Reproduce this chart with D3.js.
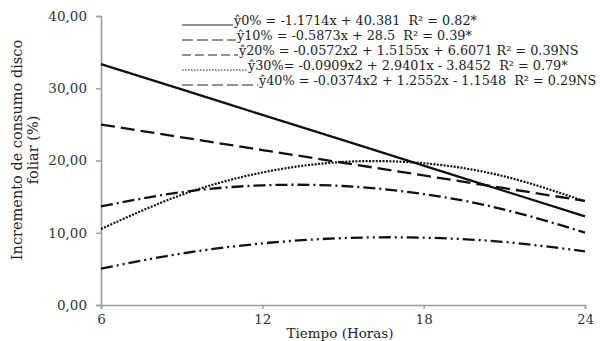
<!DOCTYPE html>
<html><head><meta charset="utf-8">
<script src="https://cdn.jsdelivr.net/npm/d3@7"></script>
<style>body{margin:0;background:#fff}svg{display:block}</style>
</head><body>
<svg id="c" width="602" height="341"></svg>
<script>
const hours = [6, 9, 12, 15, 18, 21, 24];
const s0  = [33.35, 29.84, 26.32, 22.81, 19.30, 15.78, 12.27];
const s10 = [24.98, 23.21, 21.45, 19.69, 17.93, 16.17, 14.40];
const s20 = [13.64, 15.62, 16.56, 16.47, 15.36, 13.21, 10.03];
const s30 = [10.52, 15.25, 18.34, 19.80, 19.62, 17.80, 14.35];
const s40 = [5.03, 7.12, 8.52, 9.26, 9.32, 8.72, 7.43];
const xTicks = [6, 12, 18, 24];
const yTicks = [0, 10, 20, 30, 40];
const legendLabels = [
  "ŷ0% = -1.1714x + 40.381  R² = 0.82*",
  "ŷ10% = -0.5873x + 28.5  R² = 0.39*",
  "ŷ20% = -0.0572x2 + 1.5155x + 6.6071 R² = 0.39NS",
  "ŷ30%= -0.0909x2 + 2.9401x - 3.8452  R² = 0.79*",
  "ŷ40% = -0.0374x2 + 1.2552x - 1.1548  R² = 0.29NS"
];
const series = [s0, s10, s20, s30, s40];
const curveDash = [null, "14,6", "12,4,2,4", "2,1.4", "12,4,2,4,2,4"];
const legendDash = [null, "11,4", "9,4", "1.6,1.4", "11,4"];
const legendLineEnd = [233, 236, 238, 247, 258];

const svg = d3.select("#c");
const x = d3.scaleLinear().domain([6, 24]).range([101, 585]);
const y = d3.scaleLinear().domain([0, 40]).range([305, 16]);
const font = "'DejaVu Serif', serif";
const axisColor = "#9a9a9a";

// axes
const gx = svg.append("g").attr("transform", "translate(0,305)")
  .call(d3.axisBottom(x).tickValues(xTicks).tickSize(4).tickPadding(5).tickFormat(d3.format("d")));
const gy = svg.append("g").attr("transform", "translate(101,0)")
  .call(d3.axisLeft(y).tickValues(yTicks).tickSize(5).tickPadding(9).tickFormat(d => d3.format(".2f")(d).replace(".", ",")));
[gx, gy].forEach(g => {
  g.select(".domain").attr("stroke", axisColor).attr("stroke-width", 1.6);
  g.selectAll(".tick line").attr("stroke", axisColor).attr("stroke-width", 1.4);
  g.selectAll("text").attr("font-family", font).attr("font-size", 13.5).attr("fill", "#333");
});

// axis titles
svg.append("text").attr("x", 340).attr("y", 338).attr("text-anchor", "middle")
  .attr("font-family", font).attr("font-size", 13.5).attr("fill", "#222").text("Tiempo (Horas)");
const yl = svg.append("text").attr("transform", "translate(0,150) rotate(-90)")
  .attr("text-anchor", "middle").attr("font-family", font).attr("font-size", 14.5).attr("fill", "#222");
yl.append("tspan").attr("x", 0).attr("y", 22).text("Incremento de consumo disco");
yl.append("tspan").attr("x", 0).attr("y", 38).text("foliar (%)");

// curves
const line = d3.line().x((d, i) => x(hours[i])).y(d => y(d)).curve(d3.curveNatural);
series.forEach((s, k) => {
  svg.append("path").datum(s).attr("d", line).attr("fill", "none")
    .attr("stroke", "#111").attr("stroke-width", k === 3 ? 2.2 : 2.3)
    .attr("stroke-dasharray", curveDash[k]);
});

// legend
legendLabels.forEach((t, k) => {
  const yy = 25 + k * 15;
  svg.append("line").attr("x1", 182).attr("x2", legendLineEnd[k]).attr("y1", yy).attr("y2", yy)
    .attr("stroke", "#222").attr("stroke-width", 1).attr("stroke-dasharray", legendDash[k]);
  svg.append("text").attr("x", legendLineEnd[k] + 1).attr("y", yy)
    .attr("font-family", font).attr("font-size", 12.8).attr("fill", "#222")
    .style("white-space", "pre").text(t);
});
</script>
</body></html>
